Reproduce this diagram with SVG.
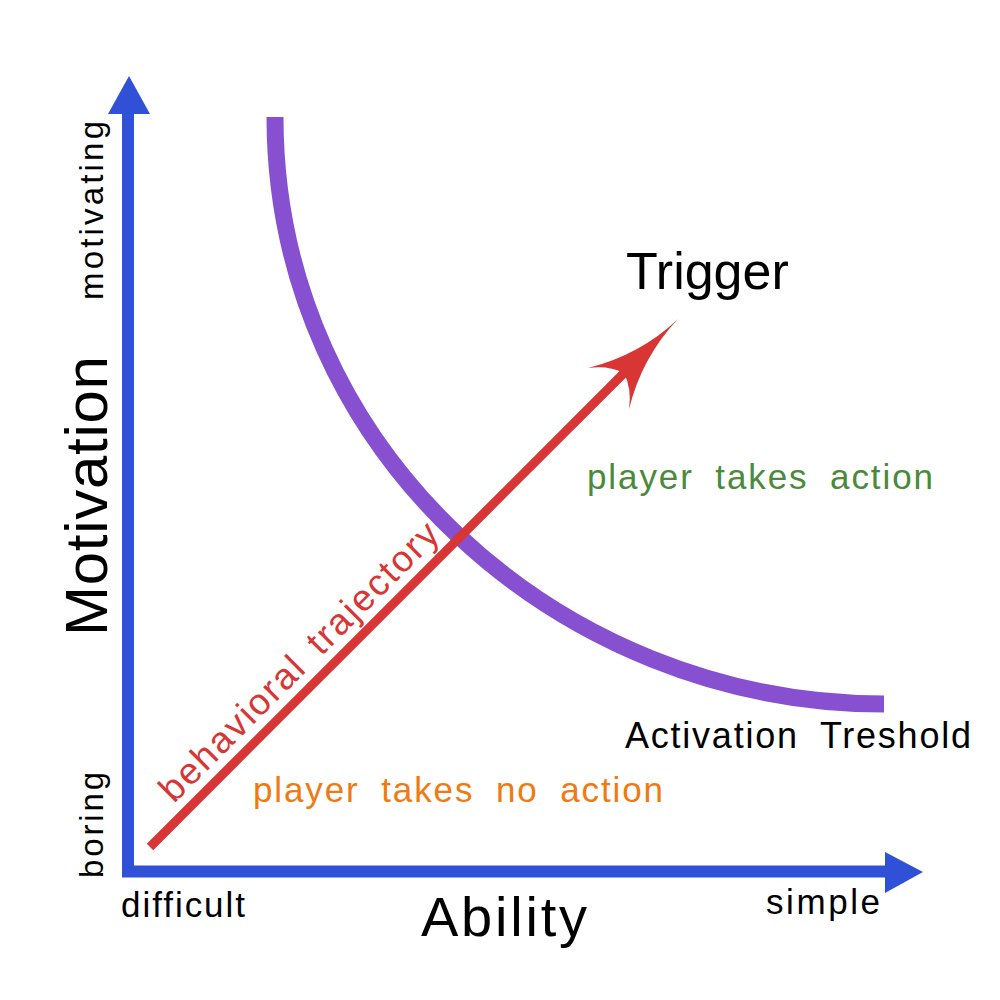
<svg xmlns="http://www.w3.org/2000/svg" width="1000" height="1000" viewBox="0 0 1000 1000">
<style>
text { font-family: "Liberation Sans", Arial, sans-serif; }
.lbl { fill: #000; }
.axis { stroke: #3050d8; stroke-width: 12; fill: none; }
.axhead { fill: #3050d8; }
.curve { stroke: #8750d0; stroke-width: 17; fill: none; }
.traj { stroke: #d83535; stroke-width: 9; fill: none; }
.trajhead { fill: #d83535; }
</style>
<rect x="0" y="0" width="1000" height="1000" fill="#ffffff"/>
<g id="axes">
  <line class="axis" x1="128" y1="110" x2="128" y2="877"/>
  <line class="axis" x1="122" y1="871.5" x2="888" y2="871.5"/>
  <polygon class="axhead" points="129,76 108,114 150,114"/>
  <polygon class="axhead" points="923,872 885,852 885,893"/>
</g>
<g id="threshold-curve">
  <path class="curve" d="M275,117 C275,450 560,704 884,704"/>
</g>
<g id="connectors">
  <line class="traj" x1="150" y1="847" x2="628" y2="369"/>
  <path class="trajhead" d="M678,319 Q640,355 588,368 Q608,365 624,373 Q632,389 629,409 Q642,357 678,319 Z"/>
</g>
<g id="labels">
  <text id="trigger" class="lbl" x="626" y="289" font-size="52">Trigger</text>
  <text id="takes-action" x="587" y="489" font-size="35" word-spacing="10" fill="#4a8a3a" textLength="346" lengthAdjust="spacing">player takes action</text>
  <text id="no-action" x="253" y="802" font-size="35" word-spacing="10" fill="#f07a12" textLength="410" lengthAdjust="spacing">player takes no action</text>
  <text id="activation" class="lbl" x="625" y="748" font-size="36" word-spacing="10" textLength="346" lengthAdjust="spacing">Activation Treshold</text>
  <text id="difficult" class="lbl" x="121" y="917" font-size="35" textLength="124" lengthAdjust="spacing">difficult</text>
  <text id="simple" class="lbl" x="766" y="914" font-size="35" textLength="114" lengthAdjust="spacing">simple</text>
  <text id="ability" class="lbl" x="421" y="936" font-size="56" textLength="166" lengthAdjust="spacing">Ability</text>
  <text id="motivation" class="lbl" transform="translate(107,636) rotate(-90)" font-size="60" textLength="280" lengthAdjust="spacing">Motivation</text>
  <text id="motivating" class="lbl" transform="translate(103,300) rotate(-90)" font-size="33" textLength="179" lengthAdjust="spacing">motivating</text>
  <text id="boring" class="lbl" transform="translate(103,878) rotate(-90)" font-size="33" textLength="106" lengthAdjust="spacing">boring</text>
  <text id="behavioral" transform="translate(174,804) rotate(-45)" font-size="37" word-spacing="6" fill="#d83535" textLength="378" lengthAdjust="spacing">behavioral trajectory</text>
</g>
</svg>
